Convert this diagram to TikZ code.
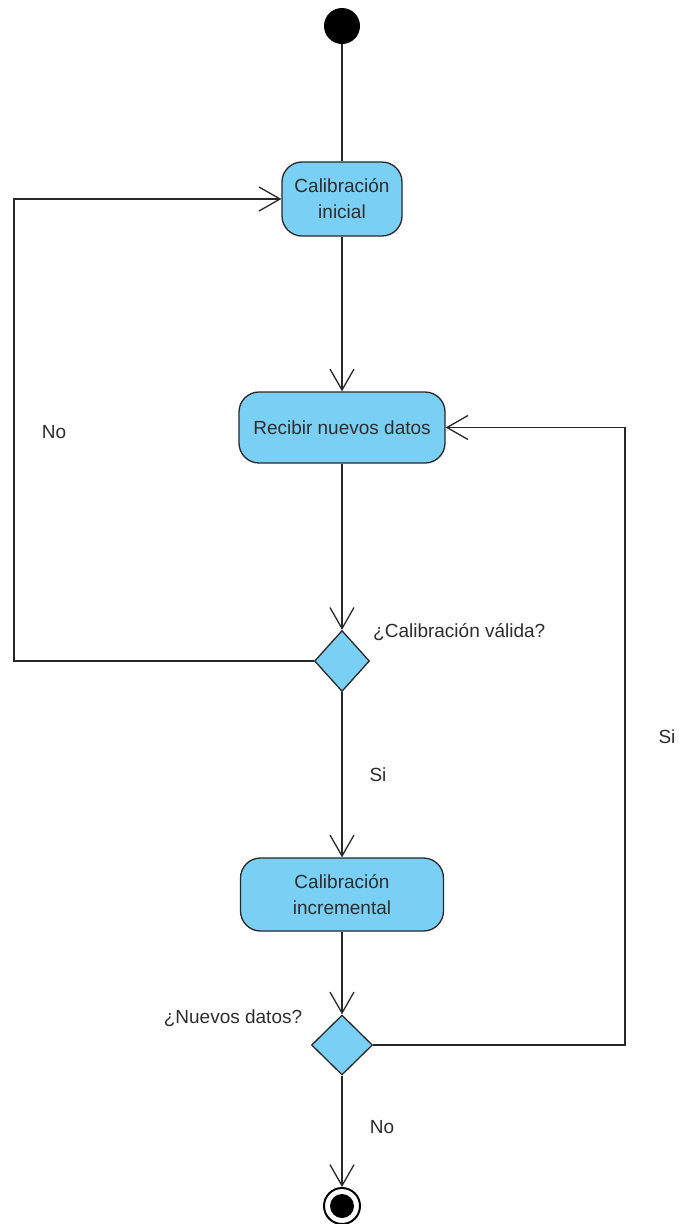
\documentclass[tikz,border=0pt]{standalone}
\usepackage{fontspec}
\setmainfont{Liberation Sans}
\usetikzlibrary{shapes.geometric,arrows.meta}
\definecolor{actfill}{RGB}{122,207,245}
\definecolor{linec}{RGB}{40,40,40}
\definecolor{txt}{RGB}{45,45,45}
\begin{document}
\begin{tikzpicture}[x=1pt,y=-1pt,
  act/.style={draw=linec, fill=actfill, rounded corners=20pt, line width=1.3pt, align=center, text=txt, font=\fontsize{19}{26}\selectfont, inner sep=0pt},
  dec/.style={diamond, draw=linec, fill=actfill, line width=1.3pt, inner sep=0pt},
  plain/.style={draw=linec, line width=1.3pt},
  flow/.style={draw=linec, line width=1.3pt, -{Straight Barb[length=21pt,width=24pt,line width=1.3pt]}},
  lbl/.style={text=txt, font=\fontsize{19}{23}\selectfont, inner sep=0pt}]
\fill[white] (0,0) rectangle (678,1224);
\useasboundingbox (0,0) rectangle (678,1224);
\node[circle, fill=black, minimum size=36pt, inner sep=0pt] (start) at (342,26) {};
\node[act, minimum width=120pt, minimum height=74pt] (init) at (342,199) {Calibración\\inicial};
\node[act, minimum width=206pt, minimum height=71pt] (recv) at (342,427.5) {Recibir nuevos datos};
\node[dec, minimum width=55pt, minimum height=61pt] (d1) at (342,661) {};
\node[act, minimum width=203pt, minimum height=73pt] (incr) at (342,894.5) {Calibración\\incremental};
\node[dec, minimum width=61pt, minimum height=60pt] (d2) at (342,1045) {};
\node[circle, draw=black, line width=2pt, minimum size=36pt, inner sep=0pt] (end) at (342,1206) {};
\node[circle, fill=black, minimum size=24pt, inner sep=0pt] (endin) at (end) {};
\node[lbl, anchor=west] (q1) at (373,632) {¿Calibración válida?};
\node[lbl] (q2) at (233,1018) {¿Nuevos datos?};
\node[lbl] (no1) at (54,432) {No};
\node[lbl] (si1) at (378,775) {Si};
\node[lbl] (si2) at (667,737) {Si};
\node[lbl] (no2) at (382,1127) {No};
\coordinate (lc) at (14,661);
\coordinate (rc) at (625,1045);
\draw[plain] (start.south) -- (init.north);
\draw[flow] (init.south) -- (recv.north);
\draw[flow] (recv.south) -- (d1.north);
\draw[flow] (d1.south) -- (incr.north);
\draw[flow] (incr.south) -- (d2.north);
\draw[flow] (d2.south) -- (end.north);
\draw[flow] (d1.west) -- (lc) |- (init.west);
\draw[flow] (d2.east) -- (rc) |- (recv.east);
\end{tikzpicture}
\end{document}
